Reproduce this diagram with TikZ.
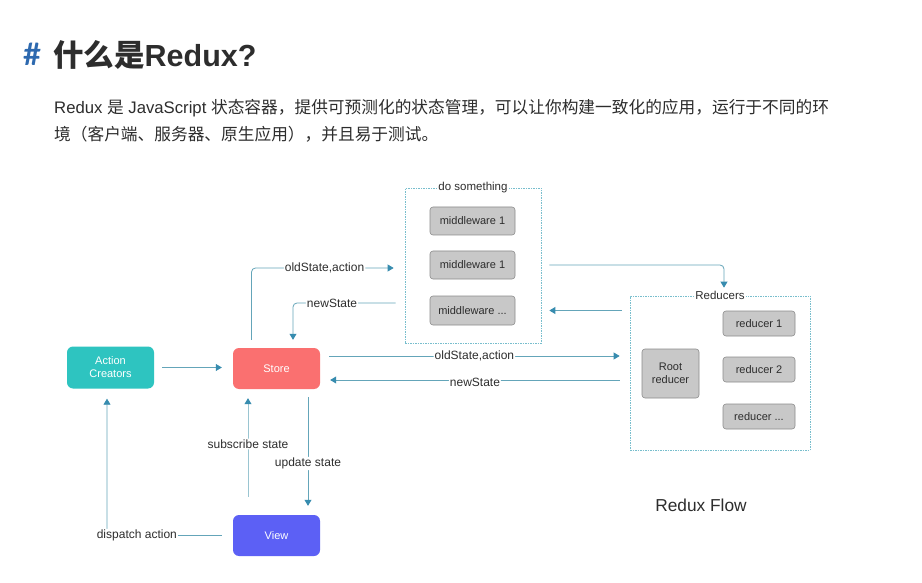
\documentclass[tikz,border=0pt]{standalone}
\usepackage{fontspec}
\setmainfont{Liberation Sans}
\newfontfamily\cjk{Noto Sans CJK SC}
\newfontfamily\hashfont{Lato}
\usetikzlibrary{arrows.meta}
\definecolor{acc}{RGB}{46,196,192}
\definecolor{storec}{RGB}{250,112,112}
\definecolor{viewc}{RGB}{92,96,245}
\definecolor{linec}{RGB}{100,165,185}
\definecolor{headc}{RGB}{55,140,175}
\definecolor{boxg}{RGB}{200,200,200}
\definecolor{boxb}{RGB}{140,140,140}
\definecolor{dashc}{RGB}{120,190,205}
\definecolor{txt}{RGB}{45,45,45}
\definecolor{hashc}{RGB}{45,105,175}
\tikzset{
  mainbox/.style={rounded corners=6pt, minimum width=87pt, minimum height=41pt, text=white,
    font=\fontsize{11}{13}\selectfont, align=center, inner sep=0pt},
  graybox/.style={draw=boxb, fill=boxg, rounded corners=3pt, line width=0.6pt, text=txt,
    font=\fontsize{11}{13}\selectfont, align=center, inner sep=0pt},
  dbox/.style={draw=dashc, dash pattern=on 1.5pt off 1pt, line width=0.7pt, inner sep=0pt},
  lab/.style={fill=white, inner sep=1pt, text=txt, font=\fontsize{12}{14}\selectfont},
  glab/.style={fill=white, inner sep=1pt, text=txt, font=\fontsize{11.5}{13}\selectfont},
  flow/.style={draw=linec, line width=0.8pt, rounded corners=4pt,
    -{Triangle[length=6pt,width=7pt,color=headc]}},
}
\begin{document}
\begin{tikzpicture}[x=1pt,y=-1pt]
\useasboundingbox (0,0) rectangle (922,583);
\fill[white] (0,0) rectangle (922,583);

% title and text
\node[anchor=base west, inner sep=0pt, text=hashc] (hash) at (23,66) {\fontsize{31}{32}\selectfont\hashfont\bfseries \#};
\node[anchor=base west, inner sep=0pt, text=txt] (title) at (53,67) {\fontsize{30.5}{32}\selectfont\bfseries{\cjk 什么是}Redux?};
\node[anchor=base west, inner sep=0pt, text=txt] (line1) at (54,114) {\fontsize{16.7}{18}\selectfont Redux {\cjk 是} JavaScript {\cjk 状态容器，提供可预测化的状态管理，可以让你构建一致化的应用，运行于不同的环}};
\node[anchor=base west, inner sep=0pt, text=txt] (line2) at (54,141) {\fontsize{16.7}{18}\selectfont\cjk 境（客户端、服务器、原生应用），并且易于测试。};

% main boxes
\node[mainbox, fill=acc, minimum height=42pt] (ac) at (110.5,367.5) {Action\\Creators};
\node[mainbox, fill=storec] (store) at (276.5,368.5) {Store};
\node[mainbox, fill=viewc] (view) at (276.5,535.5) {View};

% middleware group
\node[dbox, minimum width=136pt, minimum height=155pt] (dobox) at (473,265.5) {};
\node[graybox, minimum width=85pt, minimum height=28pt] (mw1) at (472.5,221) {middleware 1};
\node[graybox, minimum width=85pt, minimum height=28pt] (mw2) at (472.5,265) {middleware 1};
\node[graybox, minimum width=85pt, minimum height=29pt] (mw3) at (472.5,310.5) {middleware ...};
\node[glab] (dolab) at (dobox.north) {do something};

% reducers group
\node[dbox, minimum width=180pt, minimum height=154pt] (redbox) at (720,373) {};
\node[graybox, minimum width=57pt, minimum height=49pt] (root) at (670.5,373.5) {Root\\reducer};
\node[graybox, minimum width=72pt, minimum height=25pt] (r1) at (759,323.5) {reducer 1};
\node[graybox, minimum width=72pt, minimum height=25pt] (r2) at (759,369.5) {reducer 2};
\node[graybox, minimum width=72pt, minimum height=25pt] (r3) at (759,416.5) {reducer ...};
\node[glab] (redlab) at (redbox.north) {Reducers};

% connectors
\draw[flow] ([xshift=8pt]ac.east) -- ([xshift=-11pt]ac.east -| store.west);
\draw[flow] ([xshift=-25pt,yshift=8pt]store.north) |- ([xshift=-11pt,yshift=-3pt]dobox.west |- mw2.center)
  node[lab, pos=0.757] {oldState,action};
\draw[flow] ([xshift=-9pt,yshift=7.5pt]dobox.west |- mw3.center) -| ([xshift=16.5pt,yshift=8pt]store.north)
  node[lab, pos=0.31] {newState};
\draw[flow] ([xshift=8pt]dobox.east |- mw2.center) -| ([xshift=4pt,yshift=8pt]redbox.north);
\draw[flow] ([xshift=-8pt]redbox.west |- mw3.center) -- ([xshift=8pt]dobox.east |- mw3.center);
\draw[flow] ([xshift=9pt,yshift=12.5pt]store.east) -- ([xshift=-10pt,yshift=12.5pt]store.east -| redbox.west)
  node[lab, pos=0.5] {oldState,action};
\draw[flow] ([xshift=-10pt,yshift=-11.5pt]store.east -| redbox.west) -- ([xshift=10pt,yshift=-11.5pt]store.east)
  node[lab, pos=0.5, yshift=-2pt] {newState};
\draw[flow, draw=linec!65] ([xshift=-28.5pt,yshift=18pt]view.north) -- ([xshift=-28.5pt,yshift=-9pt]store.south)
  node[lab, pos=0.535] {subscribe state};
\draw[flow] ([xshift=31.5pt,yshift=-8pt]store.south) -- ([xshift=31.5pt,yshift=9pt]view.north)
  node[lab, pos=0.61] {update state};
\draw[flow] ([xshift=-11pt]view.west) -| ([xshift=-3.5pt,yshift=-10pt]ac.south)
  node[lab, pos=0.37] {dispatch action};

\node[text=txt, font=\fontsize{17.3}{19}\selectfont] (flowlab) at (701,505) {Redux Flow};
\end{tikzpicture}
\end{document}
